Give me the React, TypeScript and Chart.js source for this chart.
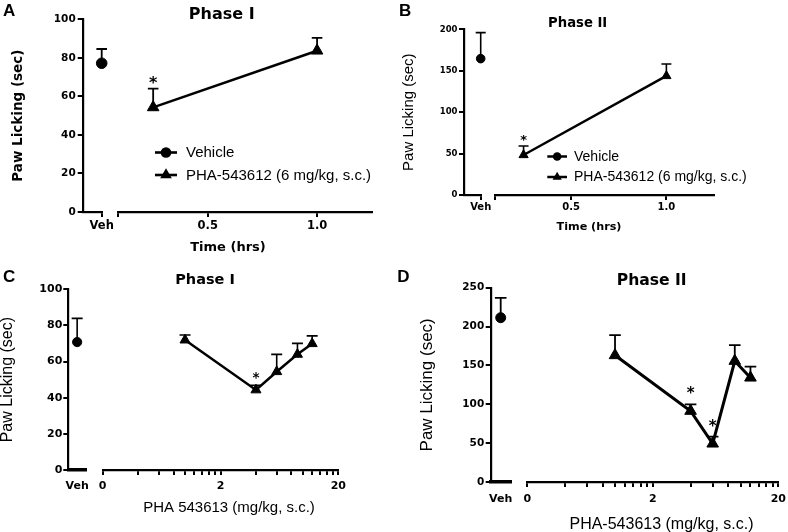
import React, { useEffect, useRef } from 'react';
import { Chart, registerables } from 'chart.js';

Chart.register(...registerables);

const BOLD = '"DejaVu Sans", Verdana, sans-serif';
const SANS = '"Liberation Sans", Arial, Helvetica, sans-serif';

// ---------------- data ----------------
const vehicleLabel = 'Vehicle';
const drugLegendLabel = 'PHA-543612 (6 mg/kg, s.c.)';
const vehTickLabel = 'Veh';
const vehicleGroup = [1];

// Panel A – Phase I, time course
const aVehicleMean = [77.2];
const aVehicleSem = [7.4];
const aTimeHrs = [0.25, 1.0];
const aDrugMean = [54.3, 83.7];
const aDrugSem = [9.7, 6.7];
const aSignificant = [true, false];

// Panel B – Phase II, time course
const bVehicleMean = [164.6];
const bVehicleSem = [31.4];
const bTimeHrs = [0.25, 1.0];
const bDrugMean = [48.3, 143.7];
const bDrugSem = [10.9, 14.5];
const bSignificant = [true, false];

// Panel C – Phase I, dose response
const cVehicleMean = [70.8];
const cVehicleSem = [13.1];
const cDoseMgKg = [1, 4, 6, 9, 12];
const cDrugMean = [71.9, 44.3, 54.4, 64.0, 69.9];
const cDrugSem = [2.8, 2.6, 9.6, 6.1, 4.3];
const cSignificant = [false, true, false, false, false];

// Panel D – Phase II, dose response
const dVehicleMean = [211.4];
const dVehicleSem = [25.6];
const dDoseMgKg = [1, 4, 6, 9, 12];
const dDrugMean = [163, 91.4, 49.3, 155.7, 134.2];
const dDrugSem = [26, 8.6, 9, 20.3, 14.2];
const dSignificant = [false, true, true, false, false];

// tick values / labels
const timeTickValues = [0.5, 1.0];
const timeTickLabels = ['0.5', '1.0'];
const doseTickValues = [0.2, 0.4, 0.6, 0.8, 1, 1.2, 1.4, 1.6, 1.8, 2, 4, 6, 8, 10, 12, 14, 16, 18, 20];
const doseLabelValues = [0.2, 2, 20];
const doseLabelTexts = ['0', '2', '20'];

// ---------------- layout ----------------
const W = 394;
const H = 266;
const XH = 40;

type Panel = {
  letter: string; title: string; yTitle: string; xTitle: string;
  left: number; top: number;
  area: { l: number; r: number; t: number; b: number };
  vehW: number; gapW: number;
  yMax: number; yStep: number;
  log: boolean; xMin: number; xMax: number;
  xs: number[]; means: number[]; sems: number[]; sig: boolean[];
  vehMean: number[]; vehSem: number[];
  tickVals: number[]; labelVals: number[]; labelTexts: string[];
  yTickSize: number; yTickPad: number; xTickSize: number; xTickPad: number;
  yTitleBold: boolean; yTitleSize: number; yTitleX: number;
  titleSize: number; titleX: number; titleY: number;
  xTitleBold: boolean; xTitleSize: number; xTitleX: number; xTitleY: number;
  letterX: number; letterY: number; letterSize: number;
  legend: null | { x0: number; x1: number; tx: number; y0: number; dy: number; size: number };
  circleR: number; triR: number; lineW: number; errW: number; capHalf: number;
  starSize: number; starGap: number;
};

const panels: Panel[] = [
  {
    letter: 'A', title: 'Phase I', yTitle: 'Paw Licking (sec)', xTitle: 'Time (hrs)',
    left: 0, top: 0,
    area: { l: 82.7, r: 371.7, t: 19.3, b: 212 },
    vehW: 19, gapW: 16.5,
    yMax: 100, yStep: 20,
    log: false, xMin: 0.09, xMax: 1.25,
    xs: aTimeHrs, means: aDrugMean, sems: aDrugSem, sig: aSignificant,
    vehMean: aVehicleMean, vehSem: aVehicleSem,
    tickVals: timeTickValues, labelVals: timeTickValues, labelTexts: timeTickLabels,
    yTickSize: 10.5, yTickPad: 2, xTickSize: 11.5, xTickPad: 2,
    yTitleBold: true, yTitleSize: 13.5, yTitleX: 18.7,
    titleSize: 16, titleX: 221.7, titleY: 14.7,
    xTitleBold: true, xTitleSize: 13, xTitleX: 228, xTitleY: 248,
    letterX: 3, letterY: 11.5, letterSize: 17,
    legend: { x0: 155, x1: 177, tx: 186, y0: 152.5, dy: 22.5, size: 15 },
    circleR: 5.3, triR: 6.7, lineW: 2.6, errW: 1.8, capHalf: 5.3,
    starSize: 16, starGap: 9.7,
  },
  {
    letter: 'B', title: 'Phase II', yTitle: 'Paw Licking (sec)', xTitle: 'Time (hrs)',
    left: 394, top: 0,
    area: { l: 70, r: 320, t: 29.3, b: 195 },
    vehW: 16.7, gapW: 14.3,
    yMax: 200, yStep: 50,
    log: false, xMin: 0.1, xMax: 1.25,
    xs: bTimeHrs, means: bDrugMean, sems: bDrugSem, sig: bSignificant,
    vehMean: bVehicleMean, vehSem: bVehicleSem,
    tickVals: timeTickValues, labelVals: timeTickValues, labelTexts: timeTickLabels,
    yTickSize: 8.5, yTickPad: 1.5, xTickSize: 10, xTickPad: 1,
    yTitleBold: false, yTitleSize: 15, yTitleX: 15,
    titleSize: 13.2, titleX: 183.7, titleY: 23.3,
    xTitleBold: true, xTitleSize: 11.2, xTitleX: 195, xTitleY: 226.7,
    letterX: 5, letterY: 11, letterSize: 17,
    legend: { x0: 153.3, x1: 173, tx: 180, y0: 156.5, dy: 20.5, size: 14 },
    circleR: 4.3, triR: 5.3, lineW: 2.5, errW: 1.6, capHalf: 5,
    starSize: 13, starGap: 9.3,
  },
  {
    letter: 'C', title: 'Phase I', yTitle: 'Paw Licking (sec)', xTitle: 'PHA 543613 (mg/kg, s.c.)',
    left: 0, top: 266,
    area: { l: 68.3, r: 338.3, t: 23.3, b: 204 },
    vehW: 17.7, gapW: 16.7,
    yMax: 100, yStep: 20,
    log: true, xMin: 0.2, xMax: 20,
    xs: cDoseMgKg, means: cDrugMean, sems: cDrugSem, sig: cSignificant,
    vehMean: cVehicleMean, vehSem: cVehicleSem,
    tickVals: doseTickValues, labelVals: doseLabelValues, labelTexts: doseLabelTexts,
    yTickSize: 11, yTickPad: 1, xTickSize: 11, xTickPad: 4.5,
    yTitleBold: false, yTitleSize: 16, yTitleX: 7.5,
    titleSize: 14.5, titleX: 205, titleY: 14.2,
    xTitleBold: false, xTitleSize: 15, xTitleX: 229, xTitleY: 241.7,
    letterX: 3, letterY: 11.7, letterSize: 17,
    legend: null,
    circleR: 4.6, triR: 5.8, lineW: 2.5, errW: 1.6, capHalf: 5.5,
    starSize: 13.5, starGap: 11,
  },
  {
    letter: 'D', title: 'Phase II', yTitle: 'Paw Licking (sec)', xTitle: 'PHA-543613 (mg/kg, s.c.)',
    left: 394, top: 266,
    area: { l: 96.7, r: 384.3, t: 21.7, b: 216 },
    vehW: 20, gapW: 16.6,
    yMax: 250, yStep: 50,
    log: true, xMin: 0.2, xMax: 20,
    xs: dDoseMgKg, means: dDrugMean, sems: dDrugSem, sig: dSignificant,
    vehMean: dVehicleMean, vehSem: dVehicleSem,
    tickVals: doseTickValues, labelVals: doseLabelValues, labelTexts: doseLabelTexts,
    yTickSize: 10.5, yTickPad: 1.5, xTickSize: 11, xTickPad: 6,
    yTitleBold: false, yTitleSize: 17, yTitleX: 33.3,
    titleSize: 15.6, titleX: 257.7, titleY: 15,
    xTitleBold: false, xTitleSize: 16, xTitleX: 267.5, xTitleY: 258.3,
    letterX: 3.3, letterY: 11.7, letterSize: 17,
    legend: null,
    circleR: 5, triR: 6.7, lineW: 3, errW: 1.8, capHalf: 5.8,
    starSize: 15, starGap: 14,
  },
];

function drawMarker(ctx: CanvasRenderingContext2D, style: string, cx: number, cy: number, r: number) {
  ctx.beginPath();
  if (style === 'circle') {
    ctx.arc(cx, cy, r, 0, Math.PI * 2);
  } else {
    ctx.moveTo(cx, cy - r);
    ctx.lineTo(cx + 0.866 * r, cy + r / 2);
    ctx.lineTo(cx - 0.866 * r, cy + r / 2);
    ctx.closePath();
  }
  ctx.fill();
}

function makeAnnot(p: Panel) {
  return {
    id: 'annot' + p.letter,
    beforeDatasetsDraw(chart: any) {
      const ctx: CanvasRenderingContext2D = chart.ctx;
      const ys = chart.scales.y;
      const groups = [
        { means: p.vehMean, sems: p.vehSem },
        { means: p.means, sems: p.sems },
      ];
      ctx.save();
      ctx.strokeStyle = '#000';
      ctx.lineWidth = p.errW;
      groups.forEach((g, di) => {
        chart.getDatasetMeta(di).data.forEach((el: any, i: number) => {
          const top = ys.getPixelForValue(g.means[i] + g.sems[i]);
          ctx.beginPath();
          ctx.moveTo(el.x, el.y);
          ctx.lineTo(el.x, top);
          ctx.moveTo(el.x - p.capHalf, top);
          ctx.lineTo(el.x + p.capHalf, top);
          ctx.stroke();
        });
      });
      ctx.restore();
    },
    afterDraw(chart: any) {
      const ctx: CanvasRenderingContext2D = chart.ctx;
      const ys = chart.scales.y;
      ctx.save();
      ctx.fillStyle = '#000';
      ctx.strokeStyle = '#000';
      // panel letter
      ctx.font = `bold ${p.letterSize}px ${SANS}`;
      ctx.textAlign = 'left';
      ctx.textBaseline = 'middle';
      ctx.fillText(p.letter, p.letterX, p.letterY);
      // title
      ctx.font = `bold ${p.titleSize}px ${BOLD}`;
      ctx.textAlign = 'center';
      ctx.fillText(p.title, p.titleX, p.titleY);
      // x axis title
      ctx.font = p.xTitleBold ? `bold ${p.xTitleSize}px ${BOLD}` : `${p.xTitleSize}px ${SANS}`;
      ctx.fillText(p.xTitle, p.xTitleX, p.xTitleY);
      // significance stars
      ctx.font = `bold ${p.starSize}px ${BOLD}`;
      ctx.textBaseline = 'alphabetic';
      chart.getDatasetMeta(1).data.forEach((el: any, i: number) => {
        if (!p.sig[i]) return;
        const top = ys.getPixelForValue(p.means[i] + p.sems[i]);
        ctx.fillText('*', el.x, top - p.starGap + 0.54 * p.starSize);
      });
      // legend
      if (p.legend) {
        const L = p.legend;
        const items = [
          { label: vehicleLabel, style: 'circle', r: p.circleR },
          { label: drugLegendLabel, style: 'triangle', r: p.triR },
        ];
        ctx.font = `${L.size}px ${SANS}`;
        ctx.textAlign = 'left';
        ctx.textBaseline = 'middle';
        items.forEach((it, k) => {
          const y = L.y0 + k * L.dy;
          ctx.lineWidth = p.lineW;
          ctx.beginPath();
          ctx.moveTo(L.x0, y);
          ctx.lineTo(L.x1, y);
          ctx.stroke();
          drawMarker(ctx, it.style, (L.x0 + L.x1) / 2, y, it.r);
          ctx.fillText(it.label, L.tx, y + 0.5);
        });
      }
      ctx.restore();
    },
  };
}

function makeConfig(p: Panel): any {
  const areaW = p.area.r - p.area.l;
  const mainW = areaW - p.vehW - p.gapW;
  const vehMax = p.log ? 2 : 1;
  const tickFontX = { family: BOLD, weight: 'bold', size: p.xTickSize };
  const fitX = (s: any) => {
    s.height = XH;
    s.paddingLeft = 0;
    s.paddingRight = 0;
  };
  const tickGrid = { display: true, drawOnChartArea: false, drawTicks: true, tickLength: 5, color: '#000', lineWidth: 2 };
  const border = { display: true, color: '#000', width: 2.2 };
  const labelFor = (v: number) => {
    const idx = p.labelVals.findIndex((lv) => Math.abs(lv - v) < 1e-9);
    return idx >= 0 ? p.labelTexts[idx] : '';
  };
  const mainTicks = p.log ? p.tickVals : [p.xMin, ...p.tickVals];
  return {
    type: 'line',
    data: {
      datasets: [
        {
          label: vehicleLabel,
          xAxisID: 'xv',
          yAxisID: 'y',
          data: p.vehMean.map((v, i) => ({ x: vehicleGroup[i], y: v })),
          showLine: false,
          pointStyle: 'circle',
          pointRadius: p.circleR,
          pointBackgroundColor: '#000',
          pointBorderColor: '#000',
          pointBorderWidth: 1,
          clip: false,
        },
        {
          label: drugLegendLabel,
          xAxisID: 'xm',
          yAxisID: 'y',
          data: p.xs.map((x, i) => ({ x, y: p.means[i] })),
          borderColor: '#000',
          borderWidth: p.lineW,
          tension: 0,
          fill: false,
          pointStyle: 'triangle',
          pointRadius: p.triR,
          pointBackgroundColor: '#000',
          pointBorderColor: '#000',
          pointBorderWidth: 1,
          clip: false,
        },
      ],
    },
    options: {
      responsive: false,
      animation: false,
      events: [],
      devicePixelRatio: 1,
      layout: { padding: { left: 0, top: p.area.t, right: W - p.area.r, bottom: H - p.area.b - XH } },
      plugins: { legend: { display: false }, tooltip: { enabled: false }, title: { display: false } },
      scales: {
        y: {
          type: 'linear',
          position: 'left',
          min: 0,
          max: p.yMax,
          ticks: {
            stepSize: p.yStep,
            color: '#000',
            font: { family: BOLD, weight: 'bold', size: p.yTickSize },
            padding: p.yTickPad,
          },
          grid: tickGrid,
          border,
          title: {
            display: true,
            text: p.yTitle,
            color: '#000',
            font: {
              family: p.yTitleBold ? BOLD : SANS,
              weight: p.yTitleBold ? 'bold' : 'normal',
              size: p.yTitleSize,
              lineHeight: 1,
            },
            padding: { top: p.yTitleX - p.yTitleSize / 2, bottom: 0 },
          },
          afterFit: (s: any) => {
            s.width = p.area.l;
            s.paddingTop = 0;
            s.paddingBottom = 0;
          },
        },
        xv: {
          type: 'linear',
          position: 'bottom',
          stack: 'x',
          stackWeight: p.vehW,
          weight: 1,
          min: 0,
          max: vehMax,
          afterBuildTicks: (s: any) => {
            s.ticks = vehicleGroup.map((v) => ({ value: v }));
          },
          ticks: {
            autoSkip: false,
            maxRotation: 0,
            color: '#000',
            font: tickFontX,
            padding: p.xTickPad,
            callback: () => vehTickLabel,
          },
          grid: { ...tickGrid, display: !p.log },
          border: p.log ? { ...border, width: 3.5, dash: [5, 2] } : border,
          afterFit: fitX,
        },
        xg: {
          type: 'linear',
          position: 'bottom',
          stack: 'x',
          stackWeight: p.gapW,
          weight: 2,
          min: 0,
          max: 1,
          ticks: { display: false },
          grid: { display: false, drawTicks: false },
          border: { display: false },
          afterFit: fitX,
        },
        xm: {
          type: p.log ? 'logarithmic' : 'linear',
          position: 'bottom',
          stack: 'x',
          stackWeight: mainW,
          weight: 3,
          min: p.xMin,
          max: p.xMax,
          afterBuildTicks: (s: any) => {
            s.ticks = mainTicks.map((v) => ({ value: v }));
          },
          ticks: {
            autoSkip: false,
            maxRotation: 0,
            color: '#000',
            font: tickFontX,
            padding: p.xTickPad,
            callback: (v: any) => labelFor(Number(v)),
          },
          grid: tickGrid,
          border,
          afterFit: fitX,
        },
      },
    },
    plugins: [makeAnnot(p)],
  };
}

function PanelChart({ panel }: { panel: Panel }) {
  const ref = useRef<HTMLCanvasElement | null>(null);
  useEffect(() => {
    if (!ref.current) return;
    const chart = new Chart(ref.current, makeConfig(panel));
    return () => chart.destroy();
  }, [panel]);
  return (
    <canvas
      ref={ref}
      width={W}
      height={H}
      style={{ position: 'absolute', left: panel.left, top: panel.top, width: W, height: H, display: 'block' }}
    />
  );
}

export default function App() {
  return (
    <div style={{ position: 'absolute', left: 0, top: 0, width: 788, height: 532, background: '#fff', overflow: 'hidden' }}>
      {panels.map((p) => (
        <PanelChart key={p.letter} panel={p} />
      ))}
    </div>
  );
}
